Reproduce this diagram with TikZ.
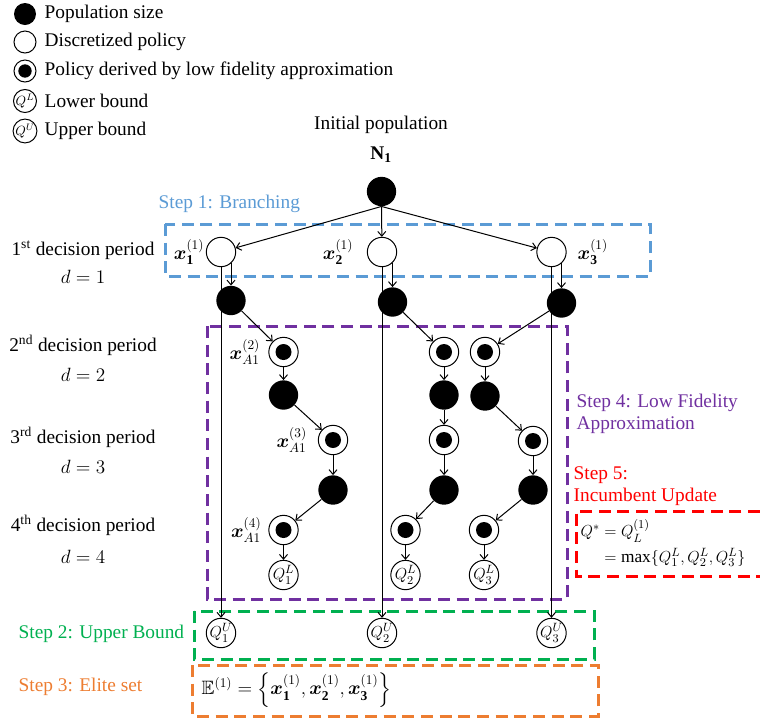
\documentclass[tikz,border=0pt]{standalone}
\usepackage{amsmath,amssymb}
\usepackage{fontspec}
\setmainfont{Liberation Serif}
\usepackage{xcolor}
\usepackage{tikz}
\usetikzlibrary{arrows.meta}

\definecolor{stepblue}{RGB}{91,155,213}
\definecolor{stepviolet}{RGB}{112,48,160}
\definecolor{stepgreen}{RGB}{0,176,80}
\definecolor{steporange}{RGB}{237,125,49}
\definecolor{stepred}{RGB}{255,0,0}

\begin{document}
\begin{tikzpicture}[x=0.75pt, y=-0.75pt,
  font=\fontsize{14.5}{17}\selectfont,
  pop/.style={circle, fill=black, minimum size=22pt, inner sep=0pt},
  pol/.style={circle, draw, fill=white, line width=0.75pt, minimum size=22pt, inner sep=0pt},
  low/.style={pol, path picture={\fill[black] (path picture bounding box.center) circle (#1);}},
  low/.default=6pt,
  bnd/.style={circle, draw, fill=white, line width=0.75pt, minimum size=22pt, inner sep=0pt, font=\fontsize{13}{14}\selectfont},
  arr/.style={-{Straight Barb[length=3.5pt,width=6pt]}, line width=0.75pt},
  stepbox/.style={line width=2.25pt, dash pattern=on 9pt off 5pt}]
\useasboundingbox (0,0) rectangle (760,719);

% legend
\node[pop, minimum size=16.5pt] (k1) at (25,14) {};
\node[anchor=west] (t1) at (40,14) {Population size};
\node[pol, minimum size=16.5pt] (k2) at (25,42) {};
\node[anchor=west] (t2) at (40,42) {Discretized policy};
\node[low=5pt, minimum size=16.5pt] (k3) at (25,71) {};
\node[anchor=west] (t3) at (40,71) {Policy derived by low fidelity approximation};
\node[bnd, minimum size=16.5pt, font=\fontsize{10}{11}\selectfont] (k4) at (25,101) {$Q^{L}$};
\node[anchor=west] (t4) at (40,101) {Lower bound};
\node[bnd, minimum size=16.5pt, font=\fontsize{10}{11}\selectfont] (k5) at (25,131) {$Q^{U}$};
\node[anchor=west] (t5) at (40,131) {Upper bound};

% decision periods
\node (p1) at (83,250) {1\textsuperscript{st} decision period};
\node (q1) at (83,277) {$d=1$};
\node (p2) at (83,345) {2\textsuperscript{nd} decision period};
\node (q2) at (83,375) {$d=2$};
\node (p3) at (83,437) {3\textsuperscript{rd} decision period};
\node (q3) at (83,467) {$d=3$};
\node (p4) at (83,525) {4\textsuperscript{th} decision period};
\node (q4) at (83,557) {$d=4$};

% dashed steps
\draw[stepbox, stepblue] (165,224) rectangle (650,276);
\draw[stepbox, stepviolet] (207,326) rectangle (567,599);
\draw[stepbox, stepgreen] (194,611) rectangle (594,659);
\draw[stepbox, steporange] (192,665) rectangle (598,716);
\draw[stepbox, stepred] (760,511) -- (576,511) -- (576,576) -- (760,576);

\node[anchor=west, text=stepblue] (s1) at (154,204) {Step 1: Branching};
\node[anchor=west, text=stepgreen] (s2) at (14,634) {Step 2: Upper Bound};
\node[anchor=west, text=steporange] (s3) at (14,687) {Step 3: Elite set};
\node[anchor=west, text=stepviolet, align=left] (s4) at (572,414) {Step 4: Low Fidelity\\Approximation};
\node[anchor=west, text=stepred, align=left] (s5) at (569,486) {Step 5:\\Incumbent Update};

% tree
\node (ip) at (381,125) {Initial population};
\node (n1) at (381,155) {$\mathbf{N}_{\mathbf{1}}$};
\node[pop] (root) at (381.5,191.5) {};

\node[pol] (w1) at (221,252) {};
\node[pol] (w2) at (382,252) {};
\node[pol] (w3) at (551.5,252) {};
\node[left, inner sep=1pt] (x1) at (w1.west) {$\boldsymbol{x}_{\mathbf{1}}^{(1)}$};
\node[left, inner sep=10pt] (x2) at (w2.west) {$\boldsymbol{x}_{\mathbf{2}}^{(1)}$};
\node[right, inner sep=8pt] (x3) at (w3.east) {$\boldsymbol{x}_{\mathbf{3}}^{(1)}$};

\node[pop] (b1) at (231,300.5) {};
\node[pop] (b2) at (392.5,302) {};
\node[pop] (b3) at (561.5,303) {};

\node[low] (d12) at (283.5,352) {};
\node[pop] (b13) at (283.5,395) {};
\node[low] (d13) at (333,440) {};
\node[pop] (b14) at (333,490) {};
\node[low] (d14) at (283.5,530) {};
\node[bnd] (l1) at (283.5,575) {$Q^{L}_{1}$};
\node[left, inner sep=6pt] (a2) at (d12.west) {$\boldsymbol{x}_{A1}^{(2)}$};
\node[left, inner sep=8pt] (a3) at (d13.west) {$\boldsymbol{x}_{A1}^{(3)}$};
\node[left, inner sep=5pt] (a4) at (d14.west) {$\boldsymbol{x}_{A1}^{(4)}$};

\node[low] (d22) at (444,352) {};
\node[pop] (b23) at (444,395) {};
\node[low] (d23) at (444,440) {};
\node[pop] (b24) at (444,490) {};
\node[low] (d24) at (405.5,530) {};
\node[bnd] (l2) at (405.5,575) {$Q^{L}_{2}$};

\node[low] (d32) at (485,352) {};
\node[pop] (b33) at (485,396) {};
\node[low] (d33) at (533,441) {};
\node[pop] (b34) at (533,490) {};
\node[low] (d34) at (484,530) {};
\node[bnd] (l3) at (484,575) {$Q^{L}_{3}$};

\node[bnd] (u1) at (221,633) {$Q^{U}_{1}$};
\node[bnd] (u2) at (382,633) {$Q^{U}_{2}$};
\node[bnd] (u3) at (551.5,633) {$Q^{U}_{3}$};

\draw[arr] (root.south) -- (w1);
\draw[arr] (root.south) -- (w2);
\draw[arr] (root.south) -- (w3);

\draw[arr] (b1.north |- w1.-48) -- (b1.north);
\draw[arr] (b2.north |- w2.-48) -- (b2.north);
\draw[arr] (b3.north |- w3.-48) -- (b3.north);

\draw[arr] (w1.south) -- (u1.north);
\draw[arr] (w2.south) -- (u2.north);
\draw[arr] (w3.south) -- (u3.north);

\draw[arr] (b1) -- (d12);
\draw[arr] (d12) -- (b13);
\draw[arr] (b13) -- (d13);
\draw[arr] (d13) -- (b14);
\draw[arr] (b14) -- (d14);
\draw[arr] (d14) -- (l1);

\draw[arr] (b2) -- (d22);
\draw[arr] (d22) -- (b23);
\draw[arr] (b23) -- (d23);
\draw[arr] (d23) -- (b24);
\draw[arr] (b24) -- (d24);
\draw[arr] (d24) -- (l2);

\draw[arr] (b3) -- (d32);
\draw[arr] (d32) -- (b33);
\draw[arr] (b33) -- (d33);
\draw[arr] (d33) -- (b34);
\draw[arr] (b34) -- (d34);
\draw[arr] (d34) -- (l3);

% incumbent and elite set
\node[anchor=west, font=\fontsize{13}{15}\selectfont] (qs) at (576,544) {$\begin{aligned} Q^{*} &= Q_{L}^{(1)}\\ &= \max\{Q_1^{L},Q_2^{L},Q_3^{L}\}\end{aligned}$};
\node[anchor=west] (es) at (197,690) {$\mathbb{E}^{(1)}=\left\{\boldsymbol{x}_{\mathbf{1}}^{(1)},\boldsymbol{x}_{\mathbf{2}}^{(1)},\boldsymbol{x}_{\mathbf{3}}^{(1)}\right\}$};
\end{tikzpicture}
\end{document}
